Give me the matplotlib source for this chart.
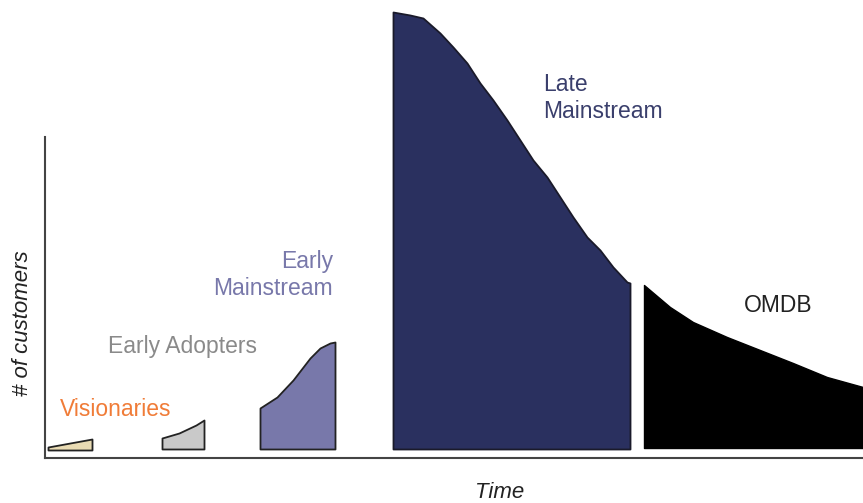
import matplotlib.pyplot as plt

plt.rcParams['font.family'] = ['Liberation Sans', 'DejaVu Sans']

# segments of the adoption curve: time positions and number of customers
vis_t = [3, 47]
vis_n = [11, 19]

adopt_t = [117, 134, 151, 159]
adopt_n = [20, 25, 33, 38]

early_t = [215, 232, 248, 265, 275, 285, 290]
early_n = [50, 61, 78, 100, 110, 115, 116]

late_t = [348, 365, 378, 395, 408, 422, 435, 448, 462, 475, 488, 502, 515, 528,
          542, 555, 568, 582, 585]
late_n = [446, 443, 440, 425, 411, 395, 375, 358, 338, 318, 298, 281, 261, 241,
          221, 208, 191, 176, 175]

omdb_t = [599, 625, 648, 682, 715, 748, 782, 818]
omdb_n = [173, 151, 136, 121, 108, 95, 81, 71]

fig = plt.figure(figsize=(8.63, 5.03), dpi=100)
ax = fig.add_axes([45 / 863, 45 / 503, 818 / 863, 458 / 503])
ax.set_xlim(0, 818)
ax.set_ylim(0, 458)

kw = dict(lw=1.3, joinstyle='round')
ax.fill_between(vis_t, 8, vis_n, facecolor='#e9dbb3', edgecolor='#222222', **kw)
ax.fill_between(adopt_t, 9, adopt_n, facecolor='#c9c9c9', edgecolor='#222222', **kw)
ax.fill_between(early_t, 9, early_n, facecolor='#7878aa', edgecolor='#222222', **kw)
ax.fill_between(late_t, 9, late_n, facecolor='#2a305f', edgecolor='#1a1a2a', **kw)
ax.fill_between(omdb_t, 10, omdb_n, facecolor='black', edgecolor='black', lw=1.0)

fs = 16.5
ax.text(15, 49, 'Visionaries', color='#f07c38', fontsize=fs, va='center', ha='left')
ax.text(63, 111, 'Early Adopters', color='#8a8a8a', fontsize=fs, va='center', ha='left')
ax.text(288, 183, 'Early\nMainstream', color='#7878aa', fontsize=fs, va='center',
        ha='right', linespacing=1.24)
ax.text(498, 360, 'Late\nMainstream', color='#3a3f6c', fontsize=fs, va='center',
        ha='left', linespacing=1.24)
ax.text(733, 153, 'OMDB', color='#222222', fontsize=fs, va='center', ha='center')

for s in ['top', 'right']:
    ax.spines[s].set_visible(False)
ax.spines['left'].set_bounds(0, 321)
for s in ['left', 'bottom']:
    ax.spines[s].set_color('#444444')
    ax.spines[s].set_linewidth(1.5)
ax.set_xticks([])
ax.set_yticks([])

fig.text(500 / 863, 1 - 492 / 503, 'Time', fontsize=16, style='italic', color='#222222',
         ha='center', va='center')
fig.text(23 / 863, 1 - 323 / 503, '# of customers', fontsize=16, style='italic',
         color='#222222', ha='center', va='center', rotation=90)

fig.savefig('out.png', dpi=100)
